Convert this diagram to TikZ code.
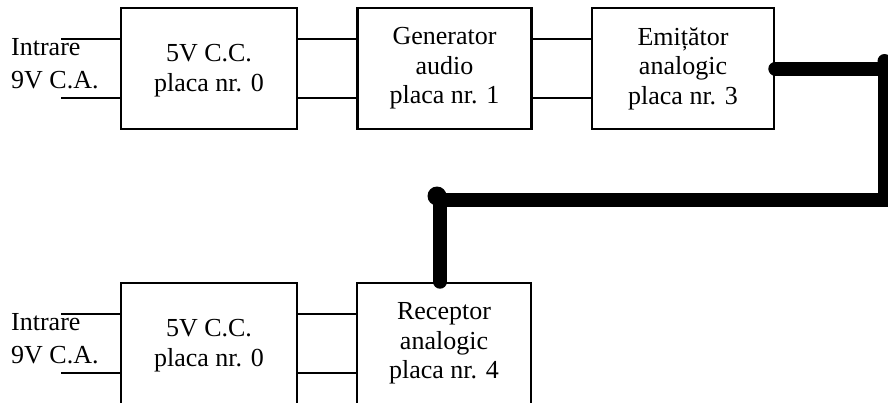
\documentclass[tikz,border=0pt]{standalone}
\usepackage{fontspec}
\setmainfont{Liberation Serif}
\begin{document}
\begin{tikzpicture}[x=1pt,y=-1pt,
  box/.style={draw,line width=2.6pt,minimum height=121pt,inner sep=0pt,align=center,
              font=\fontsize{26}{29.5}\selectfont},
  wire/.style={line width=1.8pt},
  bus/.style={line width=14pt,line cap=round,line join=miter},
  lbl/.style={anchor=base west,inner sep=0pt,font=\fontsize{26}{30}\selectfont}]
\useasboundingbox (0,0) rectangle (888,402);
\clip (0,0) rectangle (888,402);
% top row
\node[box,minimum width=176pt] (a0) at (209,68.5) {\rule{0pt}{22pt}5V C.C.\\placa nr. 0};
\node[box,minimum width=174pt] (a1) at (444.5,68.5) {Generator\\audio\\placa nr. 1};
\node[box,minimum width=182pt] (a3) at (683,68.5) {Emițător\\analogic\\placa nr. 3};
\node[lbl] (in1) at (11,55) {Intrare};
\node[lbl] (in2) at (11,88) {9V C.A.};
\coordinate (i0t) at (61,38.75);
\coordinate (i0b) at (61,98.25);
\draw[wire] (i0t) -- (i0t -| a0.west);
\draw[wire] (i0b) -- (i0b -| a0.west);
\foreach \d in {29.75,-29.75}{
  \draw[wire] ([yshift=\d pt]a0.east) -- ([yshift=\d pt]a1.west);
  \draw[wire] ([yshift=\d pt]a1.east) -- ([yshift=\d pt]a3.west);
}
% bottom row
\node[box,minimum width=176pt] (c0) at (209,343.5) {\rule{0pt}{22pt}5V C.C.\\placa nr. 0};
\node[box,minimum width=174pt] (c4) at (444,343.5) {Receptor\\analogic\\placa nr. 4};
\node[lbl] (in3) at (11,330) {Intrare};
\node[lbl] (in4) at (11,363) {9V C.A.};
\coordinate (j0t) at (61,313.75);
\coordinate (j0b) at (61,373.25);
\draw[wire] (j0t) -- (j0t -| c0.west);
\draw[wire] (j0b) -- (j0b -| c0.west);
\foreach \d in {29.75,-29.75}{
  \draw[wire] ([yshift=\d pt]c0.east) -- ([yshift=\d pt]c4.west);
}
% thick link
\coordinate (k1) at (884.5,68.5);
\coordinate (k2) at (884.5,200);
\coordinate (k3) at (440,200);
\draw[bus] (a3.east) -- (k1) -- (k2) -- (k3) -- (k3 |- c4.north);
\fill (884.5,61) circle (7);
\fill (437,196) circle (9.5);
\end{tikzpicture}
\end{document}
